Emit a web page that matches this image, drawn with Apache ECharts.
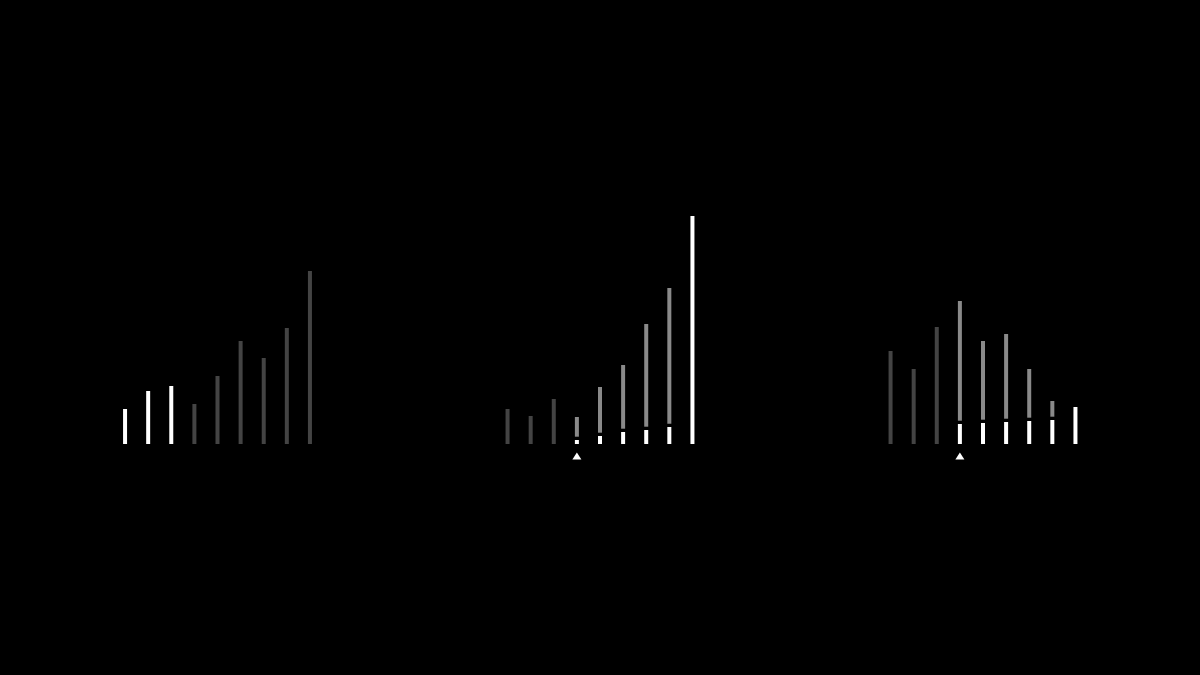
<!DOCTYPE html>
<html>
<head>
<meta charset="utf-8">
<style>
  html, body { margin: 0; padding: 0; background: #000; }
  #chart { width: 1200px; height: 675px; }
</style>
<script src="https://cdn.jsdelivr.net/npm/echarts@6/dist/echarts.min.js"></script>
</head>
<body>
<div id="chart"></div>
<script>
// ---- data ----
const categories = ['1', '2', '3', '4', '5', '6', '7', '8', '9'];

// panel 1: bar totals and kind (w = white, d = dark)
const panel1Totals = [3.5, 5.3, 5.8, 4.0, 6.8, 10.3, 8.6, 11.6, 17.3];
const panel1Kinds  = ['w', 'w', 'w', 'd', 'd', 'd', 'd', 'd', 'd'];

// panel 2: totals, white lower part (for split bars), kind (s = split)
const panel2Totals = [3.5, 2.8, 4.5, 2.7, 5.7, 7.9, 12.0, 15.6, 22.8];
const panel2Lower  = [0, 0, 0, 0.4, 0.8, 1.2, 1.4, 1.7, 0];
const panel2Kinds  = ['d', 'd', 'd', 's', 's', 's', 's', 's', 'w'];
const panel2Marker = 3;

// panel 3
const panel3Totals = [9.3, 7.5, 11.7, 14.3, 10.3, 11.0, 7.5, 4.3, 3.7];
const panel3Lower  = [0, 0, 0, 2.0, 2.1, 2.2, 2.3, 2.4, 0];
const panel3Kinds  = ['d', 'd', 'd', 's', 's', 's', 's', 's', 'w'];
const panel3Marker = 3;

// ---- style ----
const WHITE = '#ffffff';
const DARK = '#444444';
const MID = '#8a8a8a';
const GAP = 0.33;
const gridLefts = [113.5, 496, 879];

const panels = [
  { totals: panel1Totals, lower: panel1Totals.map(() => 0), kinds: panel1Kinds, marker: null },
  { totals: panel2Totals, lower: panel2Lower, kinds: panel2Kinds, marker: panel2Marker },
  { totals: panel3Totals, lower: panel3Lower, kinds: panel3Kinds, marker: panel3Marker }
];

const grid = [], xAxis = [], yAxis = [], series = [];
panels.forEach((p, i) => {
  grid.push({ left: gridLefts[i], width: 208, top: 194, height: 280 });
  xAxis.push({ type: 'category', gridIndex: i, data: categories, show: false, boundaryGap: true });
  yAxis.push({ type: 'value', gridIndex: i, min: -3, max: 25, show: false });

  const base = p.totals.map((t, k) => {
    const kind = p.kinds[k];
    if (kind === 's') return { value: p.lower[k], itemStyle: { color: WHITE } };
    return { value: t, itemStyle: { color: kind === 'w' ? WHITE : DARK } };
  });
  const gap = p.kinds.map(kind => kind === 's' ? GAP : 0);
  const upper = p.totals.map((t, k) => p.kinds[k] === 's' ? t - p.lower[k] - GAP : 0);

  const common = { type: 'bar', xAxisIndex: i, yAxisIndex: i, stack: 's' + i, barWidth: 4, silent: true, animation: false };
  series.push(Object.assign({}, common, { data: base }));
  series.push(Object.assign({}, common, { data: gap, itemStyle: { color: '#000' } }));
  series.push(Object.assign({}, common, { data: upper, itemStyle: { color: MID } }));

  if (p.marker !== null) {
    series.push({
      type: 'scatter', xAxisIndex: i, yAxisIndex: i, silent: true, animation: false,
      symbol: 'triangle', symbolSize: [9, 7],
      itemStyle: { color: WHITE, opacity: 1 },
      data: [[p.marker, -1.2]]
    });
  }
});

const chart = echarts.init(document.getElementById('chart'));
chart.setOption({
  backgroundColor: '#000',
  animation: false,
  grid, xAxis, yAxis, series
});
</script>
</body>
</html>
